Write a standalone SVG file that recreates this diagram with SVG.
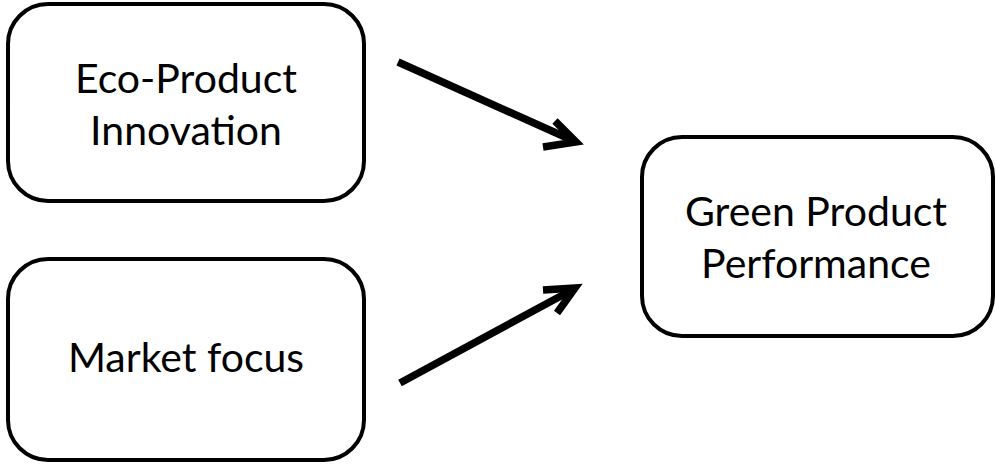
<svg xmlns="http://www.w3.org/2000/svg" width="996" height="466" viewBox="0 0 996 466">
<style>
.box{fill:#fff;stroke:#000;stroke-width:4}
.lbl{font-family:Lato,"Open Sans",sans-serif;font-size:41px;fill:#000;text-anchor:middle}
.arr{fill:none;stroke:#000;stroke-width:7.5;stroke-linecap:butt;stroke-linejoin:miter}
</style>
<rect width="996" height="466" fill="#fff"/>
<g id="node-eco">
<rect class="box" x="8" y="4" width="356" height="197" rx="40"/>
<text class="lbl" x="186" y="93">Eco-Product</text>
<text class="lbl" x="186" y="145">Innovation</text>
</g>
<g id="node-market">
<rect class="box" x="8" y="259" width="356" height="201" rx="40"/>
<text class="lbl" x="186" y="372">Market focus</text>
</g>
<g id="node-green">
<rect class="box" x="642" y="137" width="351" height="199" rx="40"/>
<text class="lbl" x="816" y="226">Green Product</text>
<text class="lbl" x="816" y="278">Performance</text>
</g>
<g id="connectors">
<path class="arr" d="M398 62 L574 141"/>
<path class="arr" d="M555 121 L576 142 L543 147"/>
<path class="arr" d="M400 383 L572 290"/>
<path class="arr" d="M543 290 L575 288 L557 313"/>
</g>
</svg>
